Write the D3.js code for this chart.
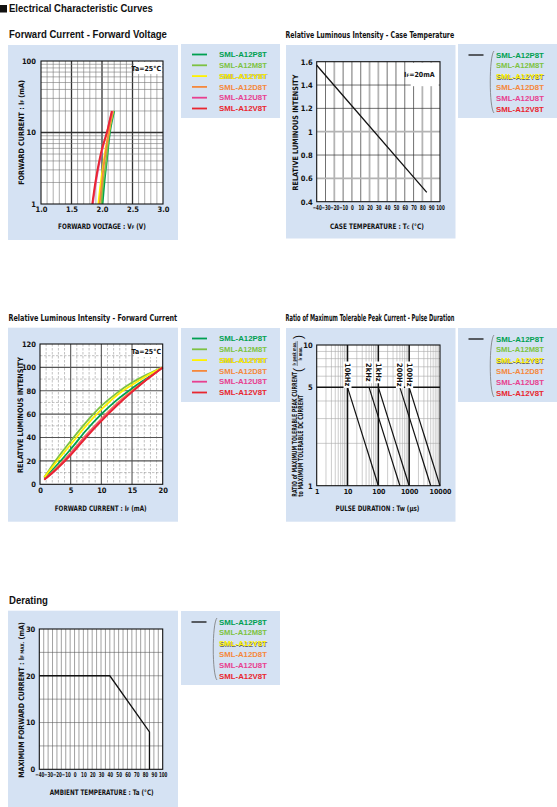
<!DOCTYPE html>
<html>
<head>
<meta charset="utf-8">
<script src="https://cdn.jsdelivr.net/npm/d3@7"></script>
<style>
  body { margin: 0; background: #fff; }
  svg { display: block; }
</style>
</head>
<body>
<svg id="chart" width="557" height="807"></svg>
<script>
// ---- datos ----
const models = ['SML-A12P8T', 'SML-A12M8T', 'SML-A12Y8T', 'SML-A12D8T', 'SML-A12U8T', 'SML-A12V8T'];

// Forward current - forward voltage: [Vf (V), If (mA)]
const ifvfP8T = [[2.01, 1], [2.04, 2], [2.07, 3.5], [2.10, 6], [2.13, 10], [2.16, 14], [2.20, 20]];
const ifvfM8T = [[1.99, 1], [2.02, 2], [2.06, 3.5], [2.09, 6], [2.12, 10], [2.15, 14], [2.19, 20]];
const ifvfY8T = [[1.94, 1], [1.98, 2], [2.02, 3.5], [2.06, 6], [2.11, 10], [2.14, 14], [2.18, 20]];
const ifvfD8T = [[1.96, 1], [2.00, 2], [2.03, 3.5], [2.07, 6], [2.11, 10], [2.14, 14], [2.18, 20]];
const ifvfU8T = [[1.85, 1], [1.90, 2], [1.95, 3.5], [2.01, 6], [2.08, 10], [2.12, 14], [2.17, 20]];
const ifvfV8T = [[1.84, 1], [1.89, 2], [1.94, 3.5], [2.00, 6], [2.08, 10], [2.12, 14], [2.16, 20]];

// Relative luminous intensity - case temperature
const caseTemp = [-40, 85];
const relIntTemp = [1.57, 0.48];

// Relative luminous intensity - forward current: [If (mA), rel. intensity]
const livP8T = [[0.7, 5], [2.5, 15], [5, 30], [7.5, 46], [10, 60], [12.5, 72], [15, 82], [17.5, 91], [20, 100]];
const livM8T = [[0.7, 6], [2.5, 20], [5, 37], [7.5, 53], [10, 67], [12.5, 78], [15, 87], [17.5, 94], [20, 100]];
const livY8T = [[0.7, 6], [2.5, 18], [5, 34], [7.5, 50], [10, 64], [12.5, 76], [15, 85], [17.5, 93], [20, 100]];
const livD8T = [[0.7, 4], [2.5, 13], [5, 27], [7.5, 42], [10, 56], [12.5, 69], [15, 80], [17.5, 90], [20, 100]];
const livU8T = [[0.7, 4], [2.5, 12], [5, 26], [7.5, 41], [10, 55], [12.5, 68], [15, 79], [17.5, 90], [20, 100]];
const livV8T = [[0.7, 4], [2.5, 12], [5, 25], [7.5, 40], [10, 54], [12.5, 67], [15, 79], [17.5, 90], [20, 100]];

// Pulse duration
const pulseFreqs = ['10kHz', '2kHz', '1kHz', '200Hz', '100Hz'];
const pulseStart = [10, 50, 100, 500, 1000];   // Tw at ratio 5
const pulseEnd = [100, 500, 1000, 5000, 10000]; // Tw at ratio 1

// Derating
const derTemp = [-40, 40, 85, 85];
const derCurrent = [20, 20, 8, 0];

// ---- estilos ----
const modelColors = ['#00a051', '#7dc242', '#fff200', '#f5883c', '#e8408f', '#e9262f'];
const panelBg = '#d5e2f3';
const NARROW = '"Liberation Sans Narrow","DejaVu Sans Condensed","Arial Narrow",sans-serif';
const SANS = '"Liberation Sans",Arial,Helvetica,sans-serif';

const svg = d3.select('#chart');

// Texto con subíndices opcionales; 'len' estira/encoge a lo ancho
function richText(g, x, y, parts, size, opts = {}) {
    const t = g.append('text')
        .attr('x', x).attr('y', y)
        .attr('font-size', size)
        .attr('font-weight', opts.weight || 'bold')
        .attr('font-family', opts.font || NARROW)
        .attr('fill', opts.fill || '#111');
    if (opts.anchor) t.attr('text-anchor', opts.anchor);
    parts.forEach(p => {
        if (typeof p === 'string') t.append('tspan').text(p);
        else t.append('tspan').attr('font-size', size * 0.65).text(p.sub);
    });
    let tr = `translate(${x},${y})`;
    if (opts.rotate) tr += ` rotate(${opts.rotate})`;
    if (opts.len) {
        const w = t.node().getComputedTextLength();
        if (w > 0) tr += ` scale(${opts.len / w},1)`;
    }
    tr += ` translate(${-x},${-y})`;
    t.attr('transform', tr);
    return t;
}

function panel(x, y, w, h) {
    svg.append('rect').attr('x', x).attr('y', y).attr('width', w).attr('height', h).attr('fill', panelBg);
}

function legendLabel(x, y, m, i) {
    if (i === 2) {
        richText(svg, x + 0.5, y + 0.5, [m], 8, { font: SANS, fill: '#666', len: 48 });
    }
    richText(svg, x, y, [m], 8, { font: SANS, fill: modelColors[i], len: 48 });
}

// Leyenda con un color por modelo
function colorLegend(x, y) {
    panel(x, y, 99, 74);
    models.forEach((m, i) => {
        const cy = y + 10.5 + i * 10.8;
        svg.append('line').attr('x1', x + 11).attr('x2', x + 26).attr('y1', cy).attr('y2', cy)
            .attr('stroke', modelColors[i]).attr('stroke-width', 1.8);
        legendLabel(x + 38, cy + 2.7, m, i);
    });
}

// Leyenda con una sola línea negra para todos
function blackLegend(x, y) {
    panel(x, y, 99, 74);
    const cy0 = y + 11;
    svg.append('line').attr('x1', x + 10.5).attr('x2', x + 25.5).attr('y1', cy0).attr('y2', cy0)
        .attr('stroke', '#222').attr('stroke-width', 1.4);
    svg.append('path')
        .attr('d', `M${x + 36},${y + 7} C${x + 31},${y + 12} ${x + 31},${y + 64} ${x + 36},${y + 69}`)
        .attr('fill', 'none').attr('stroke', '#777').attr('stroke-width', 0.8);
    models.forEach((m, i) => {
        legendLabel(x + 38, cy0 + 2.7 + i * 10.8, m, i);
    });
}

// Estilo común de ejes
function styleAxis(g, size) {
    g.select('.domain').remove();
    g.selectAll('text')
        .attr('font-family', NARROW).attr('font-weight', 'bold')
        .attr('font-size', size).attr('fill', '#111');
}

// Etiquetas de temperatura muy juntas: se estrechan
function squeezeTicks(g) {
    g.selectAll('text').attr('font-size', 6.8).attr('transform', 'scale(0.66,1)');
}

function frame(g, w, h) {
    g.append('rect').attr('width', w).attr('height', h)
        .attr('fill', 'none').attr('stroke', '#111').attr('stroke-width', 1.1);
}

function whiteBox(g, x, y, w, h) {
    g.append('rect').attr('x', x).attr('y', y).attr('width', w).attr('height', h).attr('fill', '#fff');
}

// ---- cabecera ----
svg.append('rect').attr('x', 0).attr('y', 5).attr('width', 7).attr('height', 7.5).attr('fill', '#111');
richText(svg, 9, 12.5, ['Electrical Characteristic Curves'], 10.5, { font: SANS, len: 144 });

richText(svg, 9, 38, ['Forward Current - Forward Voltage'], 10.5, { font: SANS, len: 158 });
richText(svg, 285.5, 38.5, ['Relative Luminous Intensity - Case Temperature'], 9.5, { len: 169 });
richText(svg, 8.5, 321, ['Relative Luminous Intensity - Forward Current'], 9.5, { len: 169 });
richText(svg, 285.5, 321, ['Ratio of Maximum Tolerable Peak Current - Pulse Duration'], 9.5, { len: 169 });
richText(svg, 9, 604, ['Derating'], 10.5, { font: SANS, len: 39 });

// ---- 1. Forward current - forward voltage ----
(function () {
    panel(8, 45, 170, 195);
    colorLegend(181, 44);
    const W = 122, H = 143;
    const g = svg.append('g').attr('transform', 'translate(41,61)');
    const x = d3.scaleLinear().domain([1, 3]).range([0, W]);
    const y = d3.scaleLog().domain([1, 100]).range([H, 0]);
    g.append('rect').attr('width', W).attr('height', H).attr('fill', '#fff');

    const isHalf = d => Math.abs(d * 2 - Math.round(d * 2)) < 1e-6;
    g.selectAll('.vx').data(d3.range(11, 30).map(d => d / 10)).enter().append('line')
        .attr('x1', d => x(d)).attr('x2', d => x(d)).attr('y1', 0).attr('y2', H)
        .attr('stroke', d => isHalf(d) ? '#333' : '#777')
        .attr('stroke-width', d => isHalf(d) ? 1.3 : 0.6);
    const hy = [];
    [1, 10].forEach(dec => d3.range(1, 10).forEach(k => hy.push(dec * k)));
    g.selectAll('.hy').data(hy.filter(d => d > 1)).enter().append('line')
        .attr('x1', 0).attr('x2', W).attr('y1', d => y(d)).attr('y2', d => y(d))
        .attr('stroke', d => d === 10 ? '#333' : '#777')
        .attr('stroke-width', d => d === 10 ? 1.3 : 0.6);

    whiteBox(g, 93, 1, 28, 12);
    richText(g, 120, 9.5, ['Ta=25°C'], 7, { anchor: 'end' });

    const line = d3.line().x(d => x(d[0])).y(d => y(d[1])).curve(d3.curveCatmullRom);
    [ifvfP8T, ifvfM8T, ifvfY8T, ifvfD8T, ifvfU8T, ifvfV8T].forEach((s, i) => {
        g.append('path').datum(s).attr('d', line).attr('fill', 'none')
            .attr('stroke', modelColors[i]).attr('stroke-width', 1.8);
    });
    frame(g, W, H);

    const ay = g.append('g').call(d3.axisLeft(y).tickValues([1, 10, 100]).tickFormat(d3.format('d')).tickSize(0).tickPadding(5));
    styleAxis(ay, 7.5);
    const ax = g.append('g').attr('transform', `translate(0,${H})`)
        .call(d3.axisBottom(x).tickValues([1, 1.5, 2, 2.5, 3]).tickFormat(d3.format('.1f')).tickSize(0).tickPadding(3));
    styleAxis(ax, 7.5);

    richText(svg, 102, 229.5, ['FORWARD  VOLTAGE : V', { sub: 'F' }, ' (V)'], 7.5, { anchor: 'middle', len: 88 });
    richText(svg, 24.5, 132.5, ['FORWARD  CURRENT : I', { sub: 'F' }, '  (mA)'], 7.5, { anchor: 'middle', rotate: -90, len: 105 });
})();

// ---- 2. Relative luminous intensity - case temperature ----
(function () {
    panel(286, 45, 169.5, 193.5);
    blackLegend(458, 44);
    const W = 123.3, H = 140;
    const g = svg.append('g').attr('transform', 'translate(316.7,61.7)');
    const x = d3.scaleLinear().domain([-40, 100]).range([0, W]);
    const y = d3.scaleLinear().domain([0.4, 1.6]).range([H, 0]);
    g.append('rect').attr('width', W).attr('height', H).attr('fill', '#fff');

    const greyV = [-20, 20, 30, 80, 90];
    g.selectAll('.vx').data(d3.range(-30, 100, 10)).enter().append('line')
        .attr('x1', d => x(d)).attr('x2', d => x(d)).attr('y1', 0).attr('y2', H)
        .attr('stroke', d => greyV.includes(d) ? '#b4b4b4' : '#333')
        .attr('stroke-width', d => greyV.includes(d) ? 1.8 : 0.7);
    const greyH = [0.6, 1.0];
    g.selectAll('.hy').data([0.6, 0.8, 1.0, 1.2, 1.4]).enter().append('line')
        .attr('x1', 0).attr('x2', W).attr('y1', d => y(d)).attr('y2', d => y(d))
        .attr('stroke', d => greyH.includes(d) ? '#b4b4b4' : '#333')
        .attr('stroke-width', d => greyH.includes(d) ? 1.8 : 0.7);

    whiteBox(g, 94, 1, 28, 23.5);
    richText(g, 118, 15, ['I', { sub: 'F' }, '=20mA'], 7, { anchor: 'end' });

    const pts = caseTemp.map((t, i) => [t, relIntTemp[i]]);
    g.append('path').datum(pts)
        .attr('d', d3.line().x(d => x(d[0])).y(d => y(d[1])))
        .attr('fill', 'none').attr('stroke', '#111').attr('stroke-width', 1.3);
    frame(g, W, H);

    const ay = g.append('g').call(d3.axisLeft(y).tickValues([0.4, 0.6, 0.8, 1, 1.2, 1.4, 1.6])
        .tickFormat(d => d === 1 ? '1' : d3.format('.1f')(d)).tickSize(0).tickPadding(4));
    styleAxis(ay, 7.5);
    const ax = g.append('g').attr('transform', `translate(0,${H})`)
        .call(d3.axisBottom(x).tickValues(d3.range(-40, 101, 10)).tickSize(0).tickPadding(3));
    styleAxis(ax, 6);
    squeezeTicks(ax);

    richText(svg, 377, 229, ['CASE  TEMPERATURE : T', { sub: 'C' }, ' (°C)'], 7.5, { anchor: 'middle', len: 94 });
    richText(svg, 298.5, 132.5, ['RELATIVE  LUMINOUS  INTENSITY'], 7.5, { anchor: 'middle', rotate: -90, len: 116 });
})();

// ---- 3. Relative luminous intensity - forward current ----
(function () {
    panel(8, 327.7, 170, 194);
    colorLegend(181, 328);
    const W = 122.7, H = 140.3;
    const g = svg.append('g').attr('transform', 'translate(40,344)');
    const x = d3.scaleLinear().domain([0, 20]).range([0, W]);
    const y = d3.scaleLinear().domain([0, 120]).range([H, 0]);
    g.append('rect').attr('width', W).attr('height', H).attr('fill', '#fff');

    g.selectAll('.vm').data(d3.range(1, 20).filter(d => d % 5 !== 0)).enter().append('line')
        .attr('x1', d => x(d)).attr('x2', d => x(d)).attr('y1', 0).attr('y2', H)
        .attr('stroke', '#999').attr('stroke-width', 0.6).attr('stroke-dasharray', '2.5,1.5');
    g.selectAll('.hm').data(d3.range(10, 120, 20)).enter().append('line')
        .attr('x1', 0).attr('x2', W).attr('y1', d => y(d)).attr('y2', d => y(d))
        .attr('stroke', '#999').attr('stroke-width', 0.6).attr('stroke-dasharray', '2.5,1.5');
    g.selectAll('.vM').data([5, 10, 15]).enter().append('line')
        .attr('x1', d => x(d)).attr('x2', d => x(d)).attr('y1', 0).attr('y2', H)
        .attr('stroke', '#555').attr('stroke-width', 1.1);
    g.selectAll('.hM').data([20, 40, 60, 80, 100]).enter().append('line')
        .attr('x1', 0).attr('x2', W).attr('y1', d => y(d)).attr('y2', d => y(d))
        .attr('stroke', '#555').attr('stroke-width', 1.1);

    whiteBox(g, 94, 1, 28, 12);
    richText(g, 121, 10, ['Ta=25°C'], 7, { anchor: 'end' });

    const line = d3.line().x(d => x(d[0])).y(d => y(d[1])).curve(d3.curveMonotoneX);
    [livP8T, livM8T, livY8T, livD8T, livU8T, livV8T].forEach((s, i) => {
        g.append('path').datum(s).attr('d', line).attr('fill', 'none')
            .attr('stroke', modelColors[i]).attr('stroke-width', 1.8);
    });
    frame(g, W, H);

    const ay = g.append('g').call(d3.axisLeft(y).tickValues(d3.range(0, 121, 20)).tickSize(0).tickPadding(4));
    styleAxis(ay, 7.5);
    const ax = g.append('g').attr('transform', `translate(0,${H})`)
        .call(d3.axisBottom(x).tickValues([0, 5, 10, 15, 20]).tickSize(0).tickPadding(3));
    styleAxis(ax, 7.5);

    richText(svg, 100.7, 511.5, ['FORWARD  CURRENT : I', { sub: 'F' }, ' (mA)'], 7.5, { anchor: 'middle', len: 92 });
    richText(svg, 23, 415, ['RELATIVE  LUMINOUS  INTENSITY'], 7.5, { anchor: 'middle', rotate: -90, len: 116 });
})();

// ---- 4. Ratio of maximum tolerable peak current - pulse duration ----
(function () {
    panel(286, 328, 169.5, 193.7);
    blackLegend(458, 328);
    const W = 123.3, H = 140.7;
    const g = svg.append('g').attr('transform', 'translate(316.7,345)');
    const x = d3.scaleLog().domain([1, 10000]).range([0, W]);
    const y = d3.scaleLog().domain([1, 10]).range([H, 0]);
    g.append('rect').attr('width', W).attr('height', H).attr('fill', '#fff');

    const vm = [];
    [1, 10, 100, 1000].forEach(dec => d3.range(2, 10).forEach(k => vm.push(dec * k)));
    g.selectAll('.vm').data(vm).enter().append('line')
        .attr('x1', d => x(d)).attr('x2', d => x(d)).attr('y1', 0).attr('y2', H)
        .attr('stroke', '#aaa').attr('stroke-width', 0.6);
    g.selectAll('.hm').data(d3.range(2, 10).filter(d => d !== 5)).enter().append('line')
        .attr('x1', 0).attr('x2', W).attr('y1', d => y(d)).attr('y2', d => y(d))
        .attr('stroke', '#aaa').attr('stroke-width', 0.6);
    g.selectAll('.vM').data([10, 100, 1000]).enter().append('line')
        .attr('x1', d => x(d)).attr('x2', d => x(d)).attr('y1', 0).attr('y2', H)
        .attr('stroke', '#111').attr('stroke-width', 1.5);
    g.append('line').attr('x1', 0).attr('x2', W).attr('y1', y(5)).attr('y2', y(5))
        .attr('stroke', '#111').attr('stroke-width', 1.5);

    pulseFreqs.forEach((f, i) => {
        g.append('line')
            .attr('x1', x(pulseStart[i])).attr('y1', y(5))
            .attr('x2', x(pulseEnd[i])).attr('y2', y(1))
            .attr('stroke', '#111').attr('stroke-width', 1.2);
        const lx = x(pulseStart[i]);
        const box = g.append('rect').attr('fill', '#fff');
        const t = richText(g, lx - 2.6, 18, [f], 7.5, { rotate: 90 });
        const len = t.node().getComputedTextLength();
        box.attr('x', lx - 4).attr('y', 16.5).attr('width', 8).attr('height', len + 3);
    });
    frame(g, W, H);

    const ay = g.append('g').call(d3.axisLeft(y).tickValues([1, 5, 10]).tickFormat(d3.format('d')).tickSize(0).tickPadding(4));
    styleAxis(ay, 7.5);
    const ax = g.append('g').attr('transform', `translate(0,${H})`)
        .call(d3.axisBottom(x).tickValues([1, 10, 100, 1000, 10000]).tickFormat(d3.format('d')).tickSize(0).tickPadding(3));
    styleAxis(ax, 7);

    richText(svg, 377.5, 511.5, ['PULSE  DURATION : Tw (μs)'], 7.5, { anchor: 'middle', len: 84 });
    richText(svg, 296.8, 496.7, ['RATIO of MAXIMUM TOLERABLE PEAK CURRENT'], 7, { rotate: -90, len: 125 });
    richText(svg, 303.2, 496.7, ['to MAXIMUM TOLERABLE DC CURRENT'], 7, { rotate: -90, len: 102 });
    // fracción (IF peak max. / IF max.)
    richText(svg, 302, 370, ['('], 12, { rotate: -90, anchor: 'middle', font: SANS, weight: 'normal' });
    richText(svg, 302, 337, [')'], 12, { rotate: -90, anchor: 'middle', font: SANS, weight: 'normal' });
    richText(svg, 296.3, 353.5, ['I', { sub: 'F' }, ' peak max.'], 5, { rotate: -90, anchor: 'middle', len: 24 });
    svg.append('line').attr('x1', 297.2).attr('x2', 297.2).attr('y1', 341).attr('y2', 366)
        .attr('stroke', '#111').attr('stroke-width', 0.5);
    richText(svg, 301.8, 353.5, ['I', { sub: 'F' }, ' max.'], 5, { rotate: -90, anchor: 'middle', len: 14 });
})();

// ---- 5. Derating ----
(function () {
    panel(8, 610.7, 170, 196.3);
    blackLegend(181, 611);
    const W = 123.4, H = 140.3;
    const g = svg.append('g').attr('transform', 'translate(39.3,629)');
    const x = d3.scaleLinear().domain([-40, 100]).range([0, W]);
    const y = d3.scaleLinear().domain([0, 30]).range([H, 0]);
    g.append('rect').attr('width', W).attr('height', H).attr('fill', '#fff');

    g.selectAll('.vx').data(d3.range(-35, 100, 5)).enter().append('line')
        .attr('x1', d => x(d)).attr('x2', d => x(d)).attr('y1', 0).attr('y2', H)
        .attr('stroke', '#555').attr('stroke-width', 0.55);
    g.selectAll('.hy').data([5, 10, 15, 20, 25]).enter().append('line')
        .attr('x1', 0).attr('x2', W).attr('y1', d => y(d)).attr('y2', d => y(d))
        .attr('stroke', '#555').attr('stroke-width', 0.55);

    const pts = derTemp.map((t, i) => [t, derCurrent[i]]);
    g.append('path').datum(pts)
        .attr('d', d3.line().x(d => x(d[0])).y(d => y(d[1])))
        .attr('fill', 'none').attr('stroke', '#111').attr('stroke-width', 1.3);
    frame(g, W, H);

    const ay = g.append('g').call(d3.axisLeft(y).tickValues([0, 10, 20, 30]).tickSize(0).tickPadding(4));
    styleAxis(ay, 7.5);
    const ax = g.append('g').attr('transform', `translate(0,${H})`)
        .call(d3.axisBottom(x).tickValues(d3.range(-40, 101, 10)).tickSize(0).tickPadding(3));
    styleAxis(ax, 6);
    squeezeTicks(ax);

    richText(svg, 101.7, 795.5, ['AMBIENT  TEMPERATURE : Ta  (°C)'], 7.5, { anchor: 'middle', len: 104 });
    richText(svg, 24.5, 700, ['MAXIMUM  FORWARD  CURRENT : I', { sub: 'F MAX.' }, '  (mA)'], 7.5, { anchor: 'middle', rotate: -90, len: 156 });
})();
</script>
</body>
</html>
